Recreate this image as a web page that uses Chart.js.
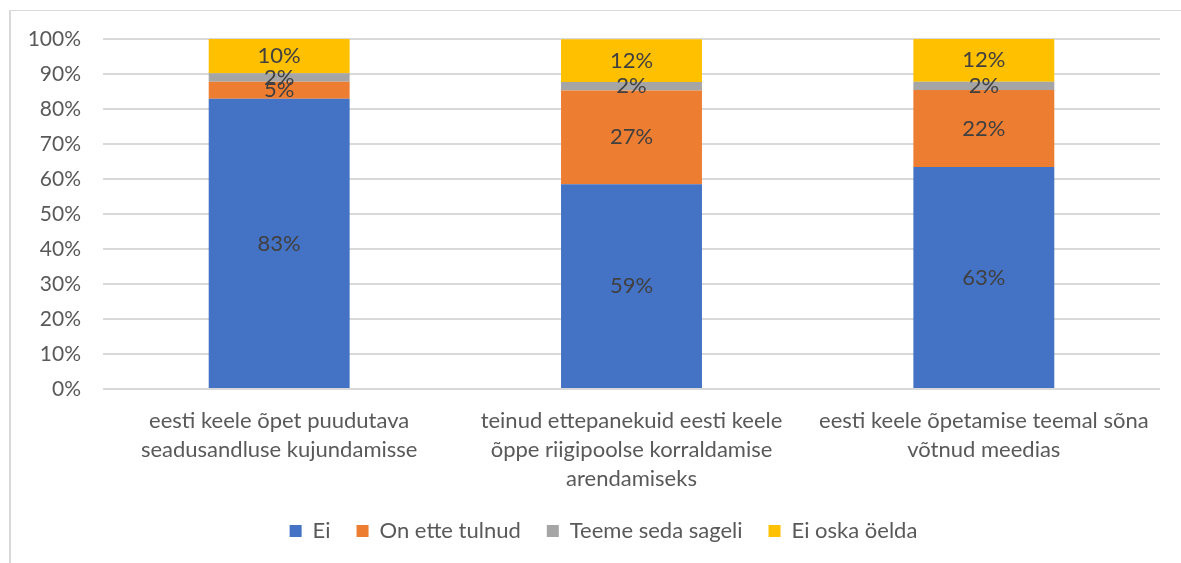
<!DOCTYPE html>
<html>
<head>
<meta charset="utf-8">
<script src="https://cdn.jsdelivr.net/npm/chart.js@4"></script>
<style>
    html, body { margin: 0; padding: 0; background: #fff; }
    #wrap { position: absolute; left: 0; top: 0; width: 1181px; height: 563px; }
    #frame { position: absolute; left: 9px; top: 10px; right: 0; bottom: 0;
             border-left: 2px solid #d9d9d9; border-top: 1px solid #d9d9d9; pointer-events: none; }
</style>
</head>
<body>
<div id="wrap">
    <canvas id="chart" width="1181" height="563"></canvas>
    <div id="frame"></div>
</div>
<script>
// Categories (multi-line labels as in the picture)
const categories = [
    ['eesti keele õpet puudutava', 'seadusandluse kujundamisse'],
    ['teinud ettepanekuid eesti keele', 'õppe riigipoolse korraldamise', 'arendamiseks'],
    ['eesti keele õpetamise teemal sõna', 'võtnud meedias']
];

// Series values, percent
const eiValues = [82.9, 58.5, 63.4];
const tulnudValues = [4.9, 26.8, 22.0];
const sageliValues = [2.4, 2.4, 2.4];
const oskaValues = [9.8, 12.2, 12.2];

const seriesNames = ['Ei', 'On ette tulnud', 'Teeme seda sageli', 'Ei oska öelda'];
const seriesColors = ['#4472C4', '#ED7D31', '#A5A5A5', '#FFC000'];

const FONT = 'Lato, "Noto Sans", sans-serif';

// Draws the value label in the middle of every segment
const segmentLabels = {
    id: 'segmentLabels',
    afterDatasetsDraw(chart) {
        const ctx = chart.ctx;
        ctx.save();
        ctx.font = '22px ' + FONT;
        ctx.fillStyle = '#404040';
        ctx.textAlign = 'center';
        ctx.textBaseline = 'middle';
        chart.data.datasets.forEach((ds, i) => {
            chart.getDatasetMeta(i).data.forEach((bar, j) => {
                const p = bar.getProps(['x', 'y', 'base'], true);
                ctx.fillText(Math.round(ds.data[j]) + '%', p.x, (p.y + p.base) / 2);
            });
        });
        ctx.restore();
    }
};

// Legend sits centred under the plot area rather than the whole canvas
const legendShift = {
    id: 'legendShift',
    afterLayout(chart) {
        const lg = chart.legend;
        const dx = (chart.chartArea.left + chart.chartArea.right) / 2 - (lg.left + lg.right) / 2 - 28;
        lg.left += dx;
        lg.right += dx;
    }
};

const values = [eiValues, tulnudValues, sageliValues, oskaValues];

new Chart(document.getElementById('chart'), {
    type: 'bar',
    data: {
        labels: categories,
        datasets: values.map((v, i) => ({
            label: seriesNames[i],
            data: v,
            backgroundColor: seriesColors[i],
            borderWidth: 0,
            categoryPercentage: 1,
            barPercentage: 0.4
        }))
    },
    options: {
        responsive: false,
        animation: false,
        layout: { padding: { left: 10, right: 21, top: 39, bottom: 11 } },
        plugins: {
            legend: {
                position: 'bottom',
                labels: {
                    font: { family: FONT, size: 22 },
                    color: '#595959',
                    boxWidth: 12,
                    boxHeight: 12,
                    padding: 26
                }
            },
            tooltip: { enabled: false }
        },
        scales: {
            x: {
                stacked: true,
                grid: { display: false },
                border: { display: false },
                ticks: {
                    font: { family: FONT, size: 22, lineHeight: 1.3 },
                    color: '#595959',
                    maxRotation: 0,
                    autoSkip: false,
                    padding: 10
                },
                afterFit: function(scale) { scale.height = 105; }
            },
            y: {
                stacked: true,
                min: 0,
                max: 100,
                ticks: {
                    stepSize: 10,
                    font: { family: FONT, size: 21 },
                    color: '#595959',
                    padding: 22,
                    callback: function(value) { return value + '%'; }
                },
                grid: { color: '#d9d9d9', lineWidth: 2, drawTicks: false },
                border: { display: false },
                afterFit: function(scale) { scale.width = 93; }
            }
        }
    },
    plugins: [segmentLabels, legendShift]
});
</script>
</body>
</html>
